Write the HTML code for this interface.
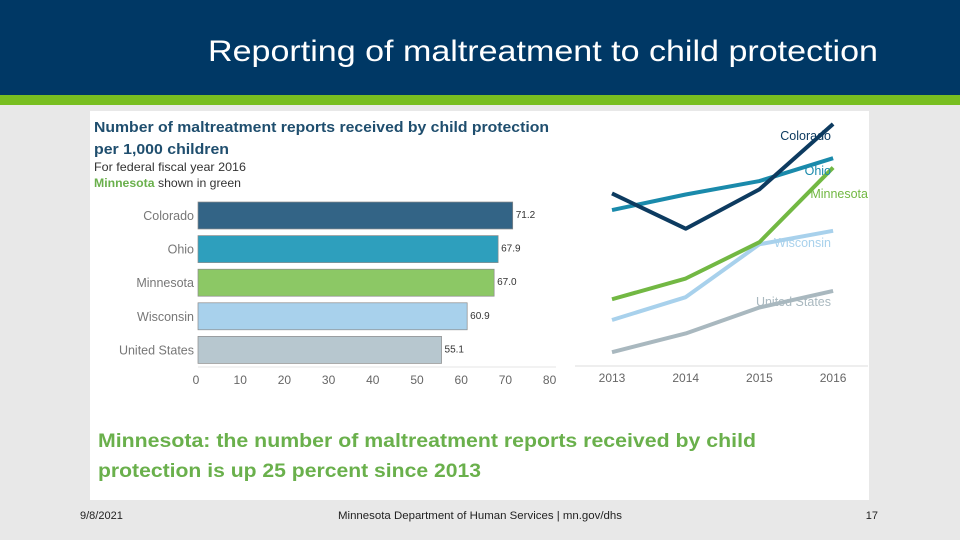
<!DOCTYPE html>
<html><head><meta charset="utf-8"><style>
body{margin:0;width:960px;height:540px;overflow:hidden;background:#e8e8e8;font-family:"Liberation Sans",sans-serif;position:relative}
.abs{position:absolute}
</style></head><body>
<div class="abs" style="left:0;top:0;width:960px;height:95px;background:#003865"></div>
<div class="abs" style="left:0;top:95px;width:960px;height:10px;background:#78be20"></div>
<div class="abs" style="left:90px;top:111px;width:779px;height:389px;background:#fff"></div>
<svg class="abs" style="left:0;top:0" width="960" height="540">
<text x="208" y="61" font-size="30" fill="#fff" textLength="670" lengthAdjust="spacingAndGlyphs">Reporting of maltreatment to child protection</text>
<text x="94" y="132" font-size="15" font-weight="bold" fill="#1f4e6e" textLength="455" lengthAdjust="spacingAndGlyphs">Number of maltreatment reports received by child protection</text>
<text x="94" y="154" font-size="15" font-weight="bold" fill="#1f4e6e" textLength="135" lengthAdjust="spacingAndGlyphs">per 1,000 children</text>
<text x="94" y="171" font-size="12" fill="#333" textLength="152" lengthAdjust="spacingAndGlyphs">For federal fiscal year 2016</text>
<text x="94" y="187" font-size="12" fill="#333" textLength="147" lengthAdjust="spacingAndGlyphs"><tspan fill="#6ab04c" font-weight="bold">Minnesota</tspan> shown in green</text>
<g id="bars"></g><g id="lines"></g>
<line x1="575" y1="366" x2="868" y2="366" stroke="#ddd"/>
<text x="98" y="447" font-size="19.5" font-weight="bold" fill="#6ab04c" textLength="658" lengthAdjust="spacingAndGlyphs">Minnesota: the number of maltreatment reports received by child</text>
<text x="98" y="477" font-size="19.5" font-weight="bold" fill="#6ab04c" textLength="383" lengthAdjust="spacingAndGlyphs">protection is up 25 percent since 2013</text>
<text x="80" y="519" font-size="11" fill="#222">9/8/2021</text>
<text x="338" y="519" font-size="11" fill="#222" textLength="284" lengthAdjust="spacingAndGlyphs">Minnesota Department of Human Services  |  mn.gov/dhs</text>
<text x="878" y="519" font-size="11" fill="#222" text-anchor="end">17</text>
</svg>
<script>
const barCats=["Colorado","Ohio","Minnesota","Wisconsin","United States"];
const barVals=[71.2,67.9,67.0,60.9,55.1];
const barLabels=["71.2","67.9","67.0","60.9","55.1"];
const barTicks=[0,10,20,30,40,50,60,70,80];
const barColors=["#336486","#2e9fbd","#8cc865","#a8d1ec","#b7c7cf"];
const years=["2013","2014","2015","2016"];
const colorado=[64.5,61.1,64.9,71.2];
const ohio=[62.9,64.4,65.7,67.9];
const minnesota=[54.3,56.3,59.8,67.0];
const wisconsin=[52.3,54.5,59.6,60.9];
const us=[49.2,51.0,53.5,55.1];
const NS="http://www.w3.org/2000/svg";
function mk(t,a,p){const e=document.createElementNS(NS,t);for(const k in a)e.setAttribute(k,a[k]);p.appendChild(e);return e;}
const bx=v=>198+v*4.42, by=i=>202+i*33.6;
const bg=document.getElementById('bars');
barCats.forEach((c,i)=>{
 const r=mk('rect',{x:bx(0),y:by(i),width:bx(barVals[i])-bx(0),height:27,fill:barColors[i],stroke:'#8a8a8a','stroke-width':0.7},bg);
 
 
 const t=mk('text',{x:194,y:by(i)+18,'font-size':12.5,fill:'#777','text-anchor':'end'},bg);t.textContent=c;
 
 
 const v=mk('text',{x:bx(barVals[i])+3,y:by(i)+16,'font-size':10,fill:'#333'},bg);v.textContent=barLabels[i];
 
 
});
mk('line',{x1:198,y1:367,x2:556,y2:367,stroke:'#e5e5e5'},bg);
barTicks.forEach(t=>{const e=mk('text',{x:bx(t)-2,y:384,'font-size':12,fill:'#666','text-anchor':'middle'},bg);e.textContent=t;
 
 });
const lx=i=>612+i*73.7, ly=v=>124+(71.2-v)*10.37;
const lg=document.getElementById('lines');
const series=[["United States",us,"#a9b8bf"],["Wisconsin",wisconsin,"#a8d1ec"],["Minnesota",minnesota,"#72b843"],["Ohio",ohio,"#1a8aab"],["Colorado",colorado,"#0d3b60"]];
const labelPos={"Colorado":[831,140,"#0d3b60"],"Ohio":[831,175,"#1a8aab"],"Minnesota":[868,198,"#72b843"],"Wisconsin":[831,247,"#a8d1ec"],"United States":[831,306,"#a9b8bf"]};
series.forEach(([n,d,c])=>{
 const p=mk('polyline',{points:d.map((v,i)=>lx(i)+','+ly(v)).join(' '),fill:'none',stroke:c,'stroke-width':4,'stroke-linejoin':'round'},lg);
 
 
});
series.forEach(([n])=>{const [x,y,c]=labelPos[n];const t=mk('text',{x:x,y:y,'font-size':12.5,fill:c,'text-anchor':'end'},lg);t.textContent=n;
 
 });
years.forEach((y,i)=>{const t=mk('text',{x:lx(i),y:382,'font-size':12,fill:'#666','text-anchor':'middle'},lg);t.textContent=y;
 
 });
</script>
</body></html>
